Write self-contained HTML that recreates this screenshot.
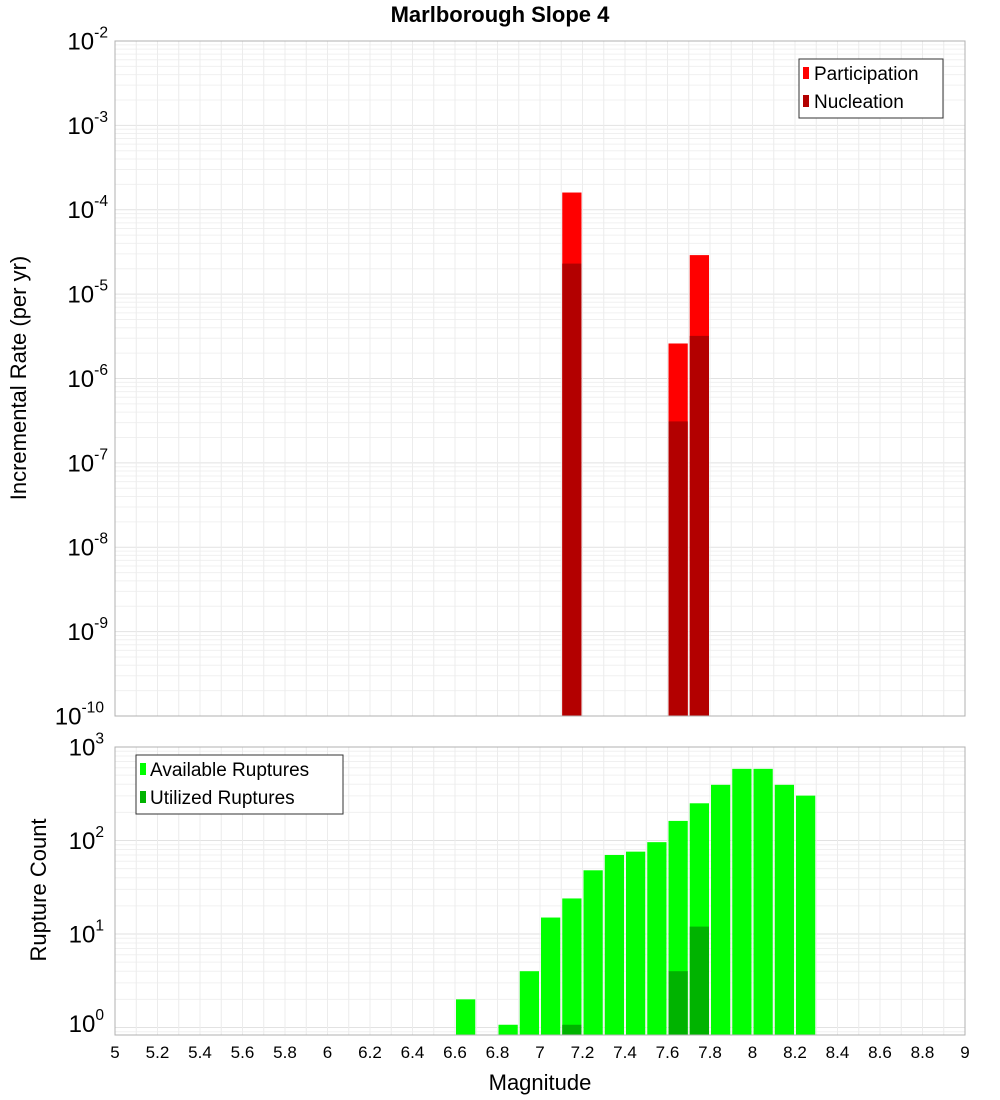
<!DOCTYPE html>
<html><head><meta charset="utf-8">
<style>
html,body{margin:0;padding:0;background:#fff;}
svg{display:block;font-family:"Liberation Sans","DejaVu Sans",sans-serif;}
</style></head>
<body>
<svg id="chart" width="1000" height="1100" viewBox="0 0 1000 1100" xmlns="http://www.w3.org/2000/svg">
<text x="500" y="22" text-anchor="middle" font-size="22" font-weight="bold">Marlborough Slope 4</text>
<g id="top"></g>
<g id="bot"></g>
<text x="540" y="1090" text-anchor="middle" font-size="22">Magnitude</text>
<text transform="translate(26,378) rotate(-90)" text-anchor="middle" font-size="22">Incremental Rate (per yr)</text>
<text transform="translate(46,890) rotate(-90)" text-anchor="middle" font-size="22">Rupture Count</text>
</svg>
<script>
const rateMags = [7.15, 7.65, 7.75];
const participation = [1.6e-4, 2.6e-6, 2.9e-5];
const nucleation = [2.3e-5, 3.1e-7, 3.2e-6];
const countMags = [6.65, 6.85, 6.95, 7.05, 7.15, 7.25, 7.35, 7.45, 7.55, 7.65, 7.75, 7.85, 7.95, 8.05, 8.15, 8.25];
const available = [2, 1.07, 4, 15, 24, 48, 70, 76, 96, 162, 250, 394, 584, 584, 394, 302];
const utilMags = [7.15, 7.65, 7.75];
const utilized = [1.07, 4, 12];
const xTicks = [5,5.2,5.4,5.6,5.8,6,6.2,6.4,6.6,6.8,7,7.2,7.4,7.6,7.8,8,8.2,8.4,8.6,8.8,9];
const topExps = [-2,-3,-4,-5,-6,-7,-8,-9,-10];
const botExps = [3,2,1,0];

const NS = "http://www.w3.org/2000/svg";
const X0 = 115, X1 = 965;
const xS = m => X0 + (m - 5) / 4 * (X1 - X0);
const topY = v => 41 + (-2 - Math.log10(v)) * (675 / 8);
const botY = v => 747 + (3 - Math.log10(v)) * 93.5;
function mk(parent, tag, attrs) {
  const e = document.createElementNS(NS, tag);
  for (const k in attrs) e.setAttribute(k, attrs[k]);
  parent.appendChild(e); return e;
}
function grid(g, yTop, yBot, yFn, lo, hi) {
  for (let e = lo; e < hi; e++) for (let k = 1; k < 10; k++) {
    const yy = yFn(k * Math.pow(10, e));
    if (yy < yTop || yy > yBot) continue;
    const l = mk(g, 'line', {x1: X0, x2: X1, y1: yy, y2: yy, stroke: k === 1 ? '#e2e2e2' : '#f0f0f0', 'stroke-width': 1});
    
    
  }
  for (let i = 1; i < 40; i++) {
    const m = 5 + i * 0.1;
    const l = mk(g, 'line', {x1: xS(m), x2: xS(m), y1: yTop, y2: yBot, stroke: '#ececec', 'stroke-width': 1});
    
    
  }
}
function bar(g, m, v, yFn, yBase, color, name) {
  const yy = yFn(v);
  const r = mk(g, 'rect', {x: xS(m - 0.05) + 1, y: yy, width: xS(5.1) - xS(5) - 2, height: yBase - yy, fill: color});
  
  
}
function expLabel(g, yy, e, fs, xr) {
  const t = mk(g, 'text', {x: xr, y: yy + fs * 0.35, 'text-anchor': 'end', 'font-size': fs});
  
  
  t.appendChild(document.createTextNode('10'));
  const s = mk(t, 'tspan', {dy: -(fs * 0.5), 'font-size': fs * 0.65});
  s.textContent = String(e);
}
// top panel
const topG = document.getElementById('top');
grid(topG, 41, 716, topY, -10, -2);
participation.forEach((v, i) => bar(topG, rateMags[i], v, topY, 716, '#ff0000', 'participation-bar'));
nucleation.forEach((v, i) => bar(topG, rateMags[i], v, topY, 716, '#b30000', 'nucleation-bar'));
let fr = mk(topG, 'rect', {x: X0, y: 41, width: X1 - X0, height: 675, fill: 'none', stroke: '#b0b0b0'});


topExps.forEach(e => expLabel(topG, topY(Math.pow(10, e)), e, 24, e <= -10 ? 104 : 108));
// top legend
const lg = mk(topG, 'g', {});


mk(lg, 'rect', {x: 799, y: 59, width: 144, height: 59, fill: '#fff', stroke: '#333'});
mk(lg, 'rect', {x: 803, y: 67, width: 6, height: 12, fill: '#ff0000'});
mk(lg, 'rect', {x: 803, y: 95, width: 6, height: 12, fill: '#b30000'});
let t = mk(lg, 'text', {x: 814, y: 80, 'font-size': 19}); t.textContent = 'Participation';
 
t = mk(lg, 'text', {x: 814, y: 108, 'font-size': 19}); t.textContent = 'Nucleation';
 
// bottom panel
const botG = document.getElementById('bot');
const B0 = 747, B1 = 1035;
grid(botG, B0, B1, botY, -1, 3);
available.forEach((v, i) => bar(botG, countMags[i], v, botY, B1, '#00ff00', 'available-bar'));
utilized.forEach((v, i) => bar(botG, utilMags[i], v, botY, B1, '#00b300', 'utilized-bar'));
fr = mk(botG, 'rect', {x: X0, y: B0, width: X1 - X0, height: B1 - B0, fill: 'none', stroke: '#b0b0b0'});


botExps.forEach(e => expLabel(botG, botY(Math.pow(10, e)) + (e === 0 ? -4 : 0), e, 24, 104));
xTicks.forEach(m => {
  const tt = mk(botG, 'text', {x: xS(m), y: 1058, 'text-anchor': 'middle', 'font-size': 17});
  tt.textContent = String(m);
  
  
});
const lg2 = mk(botG, 'g', {});


mk(lg2, 'rect', {x: 136, y: 755, width: 207, height: 59, fill: '#fff', stroke: '#333'});
mk(lg2, 'rect', {x: 140, y: 763, width: 6, height: 12, fill: '#00ff00'});
mk(lg2, 'rect', {x: 140, y: 791, width: 6, height: 12, fill: '#00b300'});
t = mk(lg2, 'text', {x: 150, y: 776, 'font-size': 19}); t.textContent = 'Available Ruptures';
 
t = mk(lg2, 'text', {x: 150, y: 804, 'font-size': 19}); t.textContent = 'Utilized Ruptures';
 
</script>
</body></html>
